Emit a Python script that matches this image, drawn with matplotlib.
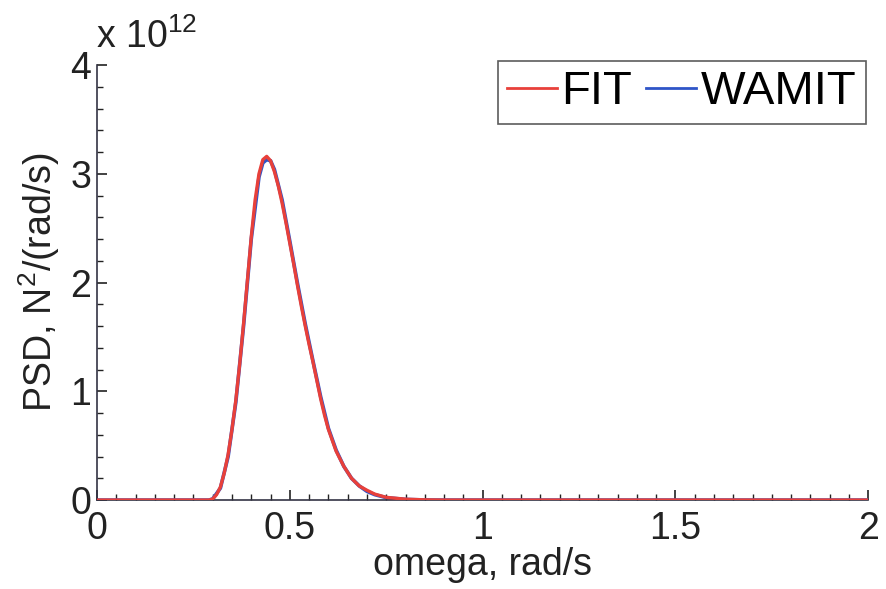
import matplotlib
matplotlib.use("Agg")
import matplotlib.pyplot as plt
from matplotlib.ticker import MultipleLocator

plt.rcParams['font.family'] = ['Liberation Sans', 'DejaVu Sans']
plt.rcParams['mathtext.fontset'] = 'custom'
plt.rcParams['mathtext.rm'] = 'Liberation Sans'
plt.rcParams['mathtext.it'] = 'Liberation Sans'

# omega (rad/s) and PSD (units of 1e12 N^2/(rad/s))
omega_fit = [0.0, 0.29, 0.30, 0.31, 0.32, 0.33, 0.34, 0.35, 0.36, 0.37, 0.38, 0.39,
             0.40, 0.41, 0.42, 0.43, 0.44, 0.45, 0.46, 0.47, 0.48, 0.49, 0.50, 0.51,
             0.52, 0.53, 0.54, 0.55, 0.56, 0.57, 0.58, 0.59, 0.60, 0.62, 0.64, 0.66,
             0.68, 0.70, 0.72, 0.75, 0.80, 0.85, 0.90, 2.0]
psd_fit_e12 = [0.0, 0.0, 0.01, 0.05, 0.12, 0.25, 0.42, 0.65, 0.92, 1.25, 1.62, 2.02,
               2.42, 2.76, 3.00, 3.13, 3.16, 3.12, 3.02, 2.89, 2.73, 2.55, 2.36, 2.17,
               1.97, 1.78, 1.60, 1.43, 1.27, 1.10, 0.93, 0.78, 0.65, 0.45, 0.31, 0.20,
               0.13, 0.09, 0.055, 0.025, 0.008, 0.002, 0.0, 0.0]

omega_wamit = [0.0, 0.29, 0.30, 0.32, 0.34, 0.36, 0.38, 0.40, 0.42, 0.43, 0.44, 0.45,
               0.46, 0.48, 0.50, 0.52, 0.54, 0.56, 0.58, 0.60, 0.62, 0.64, 0.66, 0.68,
               0.70, 0.72, 0.75, 0.80, 0.85, 0.90, 2.0]
psd_wamit_e12 = [0.0, 0.0, 0.01, 0.11, 0.40, 0.90, 1.60, 2.40, 2.97, 3.10, 3.13, 3.12,
                 3.04, 2.76, 2.38, 1.99, 1.62, 1.28, 0.95, 0.66, 0.46, 0.31, 0.20, 0.13,
                 0.08, 0.05, 0.022, 0.006, 0.001, 0.0, 0.0]

fig = plt.figure(figsize=(8.86, 5.89), dpi=100)
ax = fig.add_axes([0.1095, 0.151, 0.8705, 0.7386])

ax.plot(omega_wamit, psd_wamit_e12, color='#2f55c8', lw=2.6, label='WAMIT', zorder=2,
        solid_joinstyle='round')
ax.plot(omega_fit, psd_fit_e12, color='#e8403a', lw=2.4, label='FIT', zorder=3,
        solid_joinstyle='round')

ax.set_xlim(0, 2)
ax.set_ylim(0, 4)
ax.xaxis.set_minor_locator(MultipleLocator(0.05))
ax.yaxis.set_minor_locator(MultipleLocator(0.2))
ax.set_xticks([0, 0.5, 1, 1.5, 2])
ax.set_xticklabels(['0', '0.5', '1', '1.5', '2'])
ax.set_yticks([0, 1, 2, 3, 4])
ax.set_yticklabels(['0', '1', '2', '3', '4'])

ax.tick_params(which='both', direction='in', labelsize=27, colors='#222222')
ax.tick_params(which='major', length=7, width=1.2)
ax.tick_params(which='minor', length=4, width=1.0)
ax.tick_params(axis='x', pad=8)
ax.tick_params(axis='y', pad=4)

for s in ['top', 'right']:
    ax.spines[s].set_visible(False)
for s in ['left', 'bottom']:
    ax.spines[s].set_color('#333344')
    ax.spines[s].set_linewidth(1.2)

ax.set_xlabel('omega, rad/s', fontsize=27, labelpad=0, color='#222222')
ax.set_ylabel('PSD, N$^2$/(rad/s)', fontsize=27, labelpad=6, color='#222222')

fig.text(0.108, 0.905, r'x 10$^{12}$', fontsize=27, color='#222222', ha='left', va='bottom')

h, l = ax.get_legend_handles_labels()
leg = ax.legend(h[::-1], l[::-1], loc='upper right', ncol=2, fontsize=34,
                frameon=True, fancybox=False, handlelength=1.05, handletextpad=0.1,
                columnspacing=0.3, borderpad=0.2, borderaxespad=0.0,
                bbox_to_anchor=(0.997, 1.01))
leg.get_frame().set_edgecolor('#333333')
leg.get_frame().set_linewidth(1.2)
for line in leg.get_lines():
    line.set_linewidth(2.0)

fig.savefig('out.png', dpi=100)
